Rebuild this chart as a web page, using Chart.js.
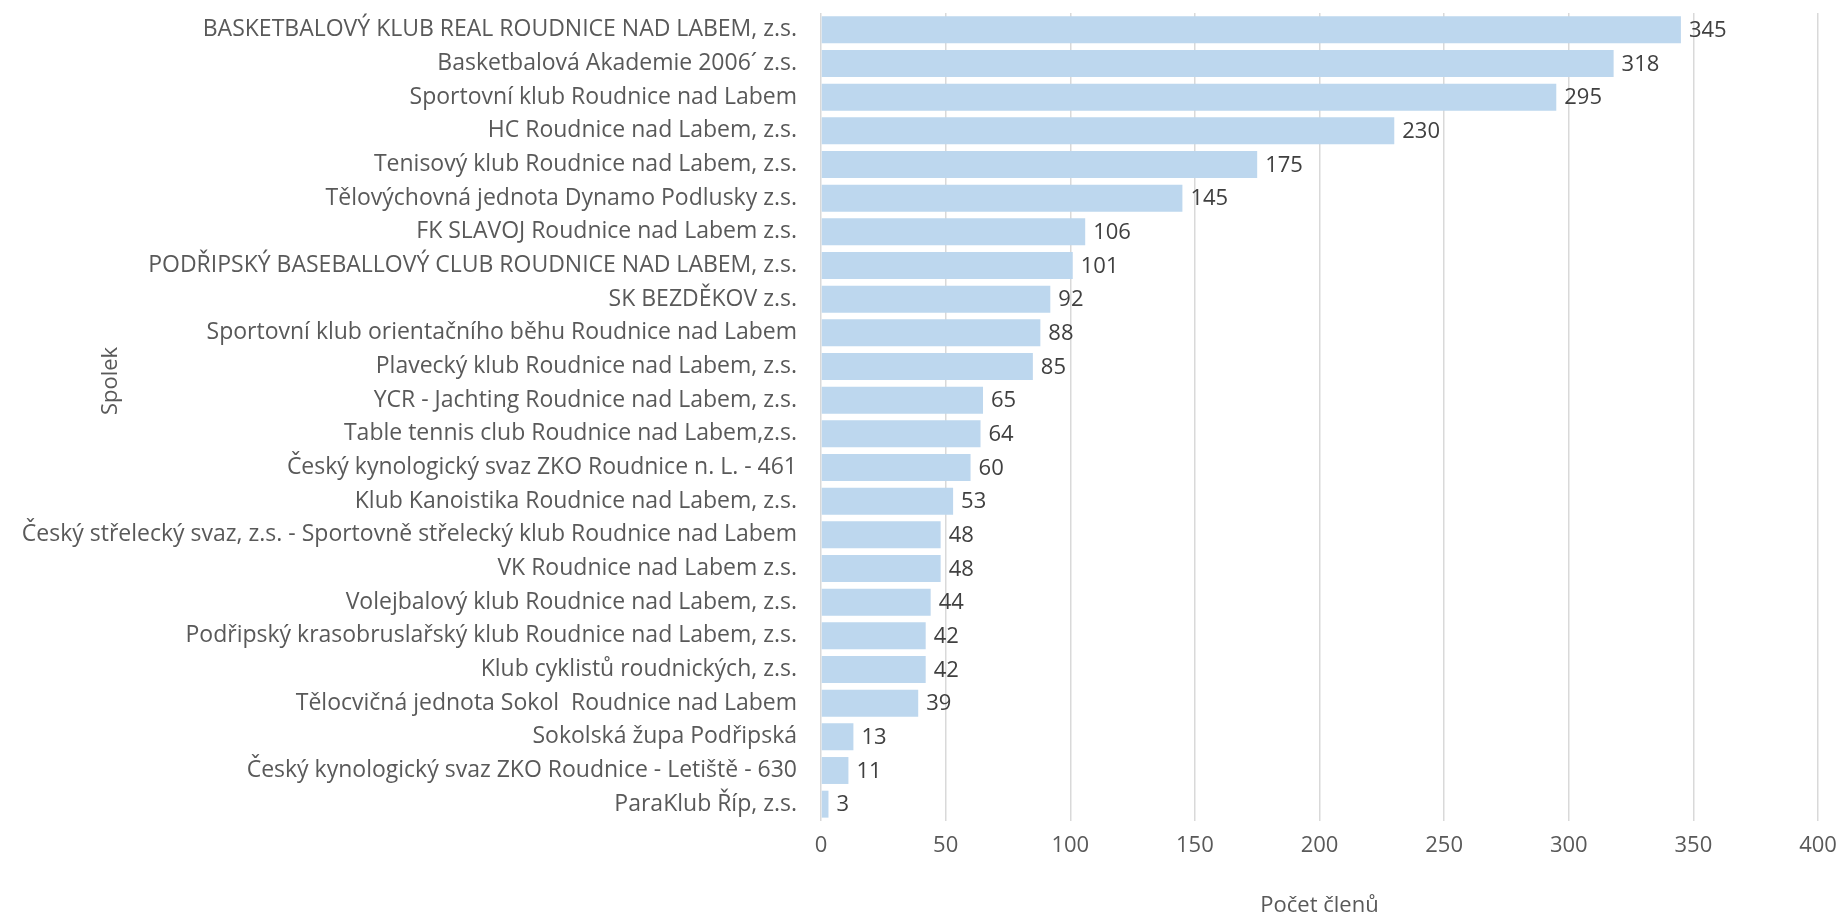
<!DOCTYPE html>
<html>
<head>
<meta charset="utf-8">
<script src="https://cdn.jsdelivr.net/npm/chart.js@4/dist/chart.umd.min.js"></script>
<style>
  html, body { margin: 0; padding: 0; background: #fff; }
  #wrap { width: 1840px; height: 919px; position: relative; }
</style>
</head>
<body>
<div id="wrap"><canvas id="membersChart"></canvas></div>
<script>
// Clubs and member counts
const clubs = [
  'BASKETBALOVÝ KLUB REAL ROUDNICE NAD LABEM, z.s.',
  'Basketbalová Akademie 2006´ z.s.',
  'Sportovní klub Roudnice nad Labem',
  'HC Roudnice nad Labem, z.s.',
  'Tenisový klub Roudnice nad Labem, z.s.',
  'Tělovýchovná jednota Dynamo Podlusky z.s.',
  'FK SLAVOJ Roudnice nad Labem z.s.',
  'PODŘIPSKÝ BASEBALLOVÝ CLUB ROUDNICE NAD LABEM, z.s.',
  'SK BEZDĚKOV z.s.',
  'Sportovní klub orientačního běhu Roudnice nad Labem',
  'Plavecký klub Roudnice nad Labem, z.s.',
  'YCR - Jachting Roudnice nad Labem, z.s.',
  'Table tennis club Roudnice nad Labem,z.s.',
  'Český kynologický svaz ZKO Roudnice n. L. - 461',
  'Klub Kanoistika Roudnice nad Labem, z.s.',
  'Český střelecký svaz, z.s. - Sportovně střelecký klub Roudnice nad Labem',
  'VK Roudnice nad Labem z.s.',
  'Volejbalový klub Roudnice nad Labem, z.s.',
  'Podřipský krasobruslařský klub Roudnice nad Labem, z.s.',
  'Klub cyklistů roudnických, z.s.',
  'Tělocvičná jednota Sokol  Roudnice nad Labem',
  'Sokolská župa Podřipská',
  'Český kynologický svaz ZKO Roudnice - Letiště - 630',
  'ParaKlub Říp, z.s.'
];
const members = [345, 318, 295, 230, 175, 145, 106, 101, 92, 88, 85, 65, 64, 60, 53, 48, 48, 44, 42, 42, 39, 13, 11, 3];

// Axis range
const X_MIN = 0;
const X_MAX = 400;
const X_STEP = 50;

const FONT = '"Open Sans", "Noto Sans", sans-serif';
const TEXT_COLOR = '#595959';

// Draw value labels at the end of each bar
const valueLabels = {
  id: 'valueLabels',
  afterDatasetsDraw(chart) {
    const { ctx } = chart;
    const meta = chart.getDatasetMeta(0);
    ctx.save();
    ctx.font = '22px ' + FONT;
    ctx.fillStyle = '#404040';
    ctx.textAlign = 'left';
    ctx.textBaseline = 'middle';
    meta.data.forEach((bar, i) => {
      ctx.fillText(String(members[i]), bar.x + 8, bar.y + 1);
    });
    ctx.restore();
  }
};

// Vertical axis title, placed like the original (a bit above plot centre)
const yTitle = {
  id: 'yTitle',
  afterDraw(chart) {
    const { ctx } = chart;
    ctx.save();
    ctx.font = '22px ' + FONT;
    ctx.fillStyle = TEXT_COLOR;
    ctx.textAlign = 'center';
    ctx.textBaseline = 'middle';
    ctx.translate(111, 381);
    ctx.rotate(-Math.PI / 2);
    ctx.fillText('Spolek', 0, 0);
    ctx.restore();
  }
};

const ctx = document.getElementById('membersChart').getContext('2d');
new Chart(ctx, {
  type: 'bar',
  data: {
    labels: clubs,
    datasets: [{
      data: members,
      backgroundColor: '#BDD7EE',
      borderWidth: 0,
      categoryPercentage: 1,
      barPercentage: 0.8
    }]
  },
  options: {
    indexAxis: 'y',
    responsive: true,
    maintainAspectRatio: false,
    animation: false,
    layout: { padding: { top: 13, right: 22, bottom: 0, left: 0 } },
    plugins: {
      legend: { display: false },
      tooltip: { enabled: false }
    },
    scales: {
      x: {
        min: X_MIN,
        max: X_MAX,
        ticks: {
          stepSize: X_STEP,
          color: TEXT_COLOR,
          font: { family: FONT, size: 22 },
          padding: 12
        },
        grid: { color: '#D9D9D9', lineWidth: 1.5, drawTicks: false },
        border: { display: false },
        title: {
          display: true,
          text: 'Počet členů',
          color: TEXT_COLOR,
          font: { family: FONT, size: 22 },
          padding: { top: 0, bottom: 0 }
        },
        afterFit(scale) {
          scale.height = 98;
          scale.paddingLeft = 0;
          scale.paddingRight = 0;
        }
      },
      y: {
        ticks: {
          color: TEXT_COLOR,
          font: { family: FONT, size: 23 },
          padding: 24,
          autoSkip: false
        },
        grid: { display: false, drawTicks: false },
        border: { display: false },
        afterFit(scale) {
          scale.width = 821;
          scale.paddingTop = 0;
          scale.paddingBottom = 0;
        }
      }
    }
  },
  plugins: [valueLabels, yTitle]
});
</script>
</body>
</html>
